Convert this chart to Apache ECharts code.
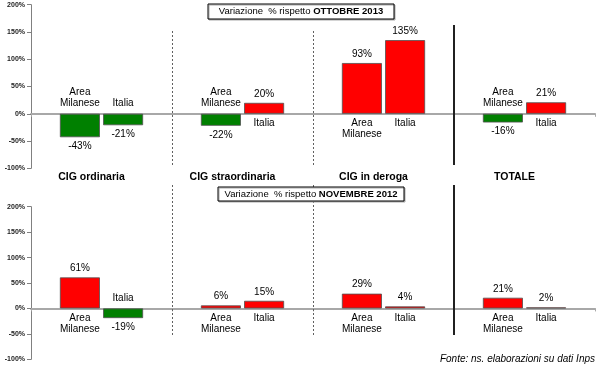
<!DOCTYPE html>
<html>
<head>
<meta charset="utf-8">
<script src="https://cdn.jsdelivr.net/npm/echarts@6/dist/echarts.min.js"></script>
<style>html,body{margin:0;padding:0;background:#fff}#c{width:600px;height:371px}</style>
</head>
<body>
<div id="c"></div>
<script>
// ---- data ----
const categories = ['CIG ordinaria', 'CIG straordinaria', 'CIG in deroga', 'TOTALE'];
const topMilano = [-43, -22, 93, -16];   // vs OTTOBRE 2013
const topItalia = [-21, 20, 135, 21];
const botMilano = [61, 6, 29, 21];       // vs NOVEMBRE 2012
const botItalia = [-19, 15, 4, 2];
const seriesNames = ['Area\nMilanese', 'Italia'];
const yMin = -100, yMax = 200, yStep = 50;
const topTitle = ['Variazione  % rispetto ', 'OTTOBRE 2013'];
const botTitle = ['Variazione  % rispetto ', 'NOVEMBRE 2012'];
const sourceText = 'Fonte: ns. elaborazioni su dati Inps';

// ---- styling ----
const FF = '"Liberation Sans", Arial, sans-serif';
const RED = '#ff0000', GREEN = '#008000';
const GL = 31, GR = 5, GW = 600 - GL - GR;
const grids = [
  {left: GL, right: GR, top: 4.7, height: 163.6},
  {left: GL, right: GR, top: 206.7, height: 152.6}
];

const chart = echarts.init(document.getElementById('c'), null, {renderer: 'canvas'});

function valueData(arr) {
  return arr.map(v => ({
    value: v,
    itemStyle: {color: v >= 0 ? RED : GREEN},
    label: {position: v >= 0 ? 'top' : 'bottom'}
  }));
}
function nameData(arr, name) {
  return arr.map(v => ({
    value: 0,
    label: {position: v >= 0 ? 'bottom' : 'top', formatter: name,
            distance: v >= 0 ? 4 : 5}
  }));
}

const xAxes = [], yAxes = [], series = [];
[[topMilano, topItalia], [botMilano, botItalia]].forEach((pair, g) => {
  xAxes.push({
    type: 'category', gridIndex: g, data: categories,
    axisLine: {onZero: true, lineStyle: {color: '#a8a8a8', width: 2}},
    axisTick: {show: true, length: 3, lineStyle: {color: '#a8a8a8'}},
    axisLabel: {show: false}
  });
  xAxes.push({
    type: 'category', gridIndex: g, data: categories, position: 'bottom',
    axisLine: {show: false, onZero: false}, axisTick: {show: false},
    axisLabel: {show: g === 0, margin: 3, fontFamily: FF, fontSize: 10.5, fontWeight: 'bold',
                color: '#000', padding: [0, 20, 0, 0]}
  });
  yAxes.push({
    type: 'value', gridIndex: g, min: yMin, max: yMax, interval: yStep,
    axisLine: {show: true, lineStyle: {color: '#808080', width: 1}},
    axisTick: {show: true, length: 4, lineStyle: {color: '#808080'}},
    splitLine: {show: false},
    axisLabel: {formatter: '{value}%', fontFamily: FF, fontSize: 7, fontWeight: 'bold',
                color: '#222', margin: 6}
  });
  yAxes.push({type: 'value', gridIndex: g, min: yMin, max: yMax, interval: yStep, show: false});

  const mainX = g * 2, labX = g * 2 + 1;
  pair.forEach((arr) => {
    series.push({
      type: 'bar', xAxisIndex: mainX, yAxisIndex: mainX,
      barWidth: 40, barGap: '8%',
      data: valueData(arr),
      itemStyle: {borderColor: '#505050', borderWidth: 0.8},
      label: {show: true, formatter: '{c}%', distance: 4,
              fontFamily: FF, fontSize: 10, color: '#000'},
      silent: true, animation: false
    });
  });
  pair.forEach((arr, i) => {
    series.push({
      type: 'bar', xAxisIndex: labX, yAxisIndex: labX,
      barWidth: 40, barGap: '8%',
      data: nameData(arr, seriesNames[i]),
      itemStyle: {color: 'rgba(0,0,0,0)'},
      label: {show: true, fontFamily: FF, fontSize: 10, color: '#000', lineHeight: 11},
      silent: true, animation: false
    });
  });
});

function titleBox(x, y, w, h, parts) {
  return {
    type: 'group', left: x, top: y, z: 50,
    children: [
      {type: 'rect', z: 50, shape: {x: 0, y: 0, width: w, height: h},
       style: {fill: '#fff', stroke: '#000', lineWidth: 1,
               shadowColor: '#aaa', shadowOffsetX: 1, shadowOffsetY: 1, shadowBlur: 0}},
      {type: 'text', z: 51, x: w / 2, y: h / 2,
       style: {text: '{n|' + parts[0] + '}{b|' + parts[1] + '}', align: 'center', verticalAlign: 'middle',
               rich: {n: {fontFamily: FF, fontSize: 9.5, fill: '#000'},
                      b: {fontFamily: FF, fontSize: 9.5, fontWeight: 'bold', fill: '#000'}}}}
    ]
  };
}

const catW = GW / categories.length;
const graphics = [];
[[31, 165], [185, 335]].forEach(([y1, y2]) => {
  [1, 2].forEach(k => {
    const x = Math.round(GL + k * catW) + 0.5;
    graphics.push({type: 'line', z: 10, shape: {x1: x, y1: y1, x2: x, y2: y2},
      style: {stroke: '#606060', lineWidth: 1, lineDash: [2, 2]}});
  });
  const xs = Math.round(GL + 3 * catW);
  graphics.push({type: 'line', z: 10, shape: {x1: xs, y1: y1 === 31 ? 25 : y1, x2: xs, y2: y2},
    style: {stroke: '#202020', lineWidth: 2}});
});
graphics.push(titleBox(207.5, 3.5, 186, 15, topTitle));
graphics.push(titleBox(217.5, 186.5, 186, 14, botTitle));
graphics.push({type: 'text', right: 5, top: 354,
  style: {text: sourceText, fontFamily: FF, fontSize: 10, fontStyle: 'italic', fill: '#000'}});

chart.setOption({
  animation: false,
  grid: grids,
  xAxis: xAxes,
  yAxis: yAxes,
  series: series,
  graphic: graphics
});
</script>
</body>
</html>
